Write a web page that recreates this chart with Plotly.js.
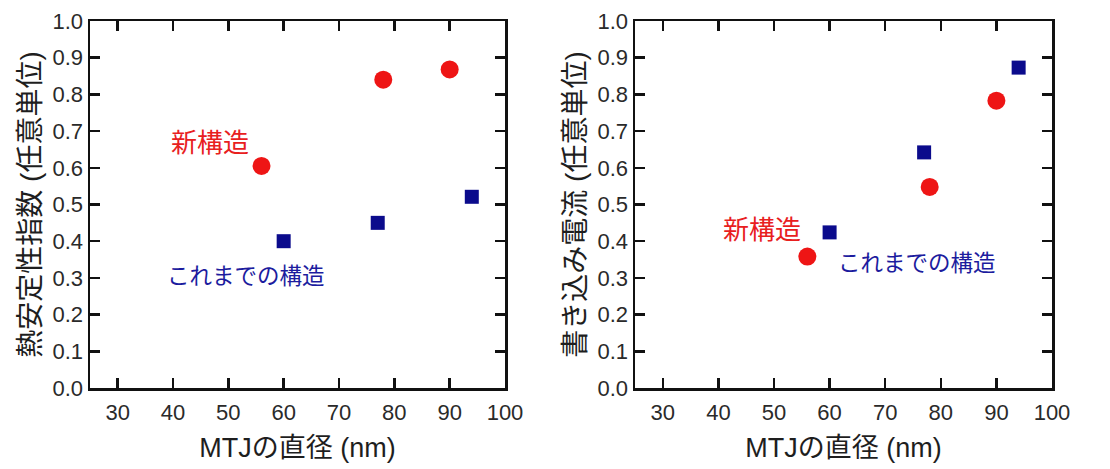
<!DOCTYPE html>
<html>
<head>
<meta charset="utf-8">
<script src="https://cdn.plot.ly/plotly-3.0.1.min.js"></script>
<style>html,body{margin:0;padding:0;background:#fff;}#chart{width:1110px;height:469px;}</style>
</head>
<body>
<div id="chart"></div>
<script>
// Left panel: thermal stability index
const leftNewX = [56, 78, 90];
const leftNewY = [0.605, 0.84, 0.868];
const leftOldX = [60, 77, 94];
const leftOldY = [0.40, 0.45, 0.521];
// Right panel: write current
const rightNewX = [56, 78, 90];
const rightNewY = [0.358, 0.548, 0.783];
const rightOldX = [60, 77, 94];
const rightOldY = [0.424, 0.642, 0.873];

const xTitle = 'MTJの直径 (nm)';
const yTitleLeft = '熱安定性指数 (任意単位)';
const yTitleRight = '書き込み電流 (任意単位)';
const labelNew = '新構造';
const labelOld = 'これまでの構造';

const FONT = '"Liberation Sans", Arial, "Noto Sans CJK JP", sans-serif';
const RED = '#ee1515';
const BLUE = '#0b0b8c';
const RED_T = '#e8201e';
const BLUE_T = '#1c1c9e';

const circ = {symbol: 'circle', size: 18, color: RED, line: {width: 0}};
const sq = {symbol: 'square', size: 14, color: BLUE, line: {width: 0}};

const traces = [
  {x: leftNewX, y: leftNewY, mode: 'markers', marker: circ, xaxis: 'x', yaxis: 'y', name: labelNew},
  {x: leftOldX, y: leftOldY, mode: 'markers', marker: sq, xaxis: 'x', yaxis: 'y', name: labelOld},
  {x: rightNewX, y: rightNewY, mode: 'markers', marker: circ, xaxis: 'x2', yaxis: 'y2', name: labelNew},
  {x: rightOldX, y: rightOldY, mode: 'markers', marker: sq, xaxis: 'x2', yaxis: 'y2', name: labelOld}
];

function xax(domain, anchor) {
  return {
    domain: domain, anchor: anchor, range: [25, 100], dtick: 10, tick0: 0,
    ticks: 'inside', ticklen: 10, tickwidth: 2.5, tickcolor: '#111',
    showline: true, linewidth: 2.5, linecolor: '#111', mirror: 'ticks',
    showgrid: false, zeroline: false,
    tickfont: {family: FONT, size: 22, color: '#2a2a2a'},
    ticklabelstandoff: 3,
    title: {text: xTitle, font: {family: FONT, size: 27, color: '#1e1e1e'}, standoff: 14},
    automargin: false
  };
}
function yax(domain, anchor, title) {
  return {
    domain: domain, anchor: anchor, range: [0, 1], dtick: 0.1, tickformat: '.1f',
    ticks: 'inside', ticklen: 10, tickwidth: 2.5, tickcolor: '#111',
    showline: true, linewidth: 2.5, linecolor: '#111', mirror: 'ticks',
    showgrid: false, zeroline: false,
    tickfont: {family: FONT, size: 22, color: '#2a2a2a'},
    title: {text: title, font: {family: FONT, size: 28, color: '#1e1e1e'}, standoff: 4},
    automargin: false
  };
}

const W = 1110, H = 469;
const yd = [1 - 388 / H, 1 - 21 / H];
const layout = {
  width: W, height: H,
  margin: {l: 0, r: 0, t: 0, b: 0},
  paper_bgcolor: '#fff', plot_bgcolor: '#fff',
  showlegend: false,
  font: {family: FONT},
  xaxis: xax([90 / W, 505 / W], 'y'),
  yaxis: yax(yd, 'x', yTitleLeft),
  xaxis2: xax([635 / W, 1052 / W], 'y2'),
  yaxis2: yax(yd, 'x2', yTitleRight),
  annotations: [
    {xref: 'x', yref: 'y', x: 46.7, y: 0.668, text: labelNew, showarrow: false, font: {family: FONT, size: 26, color: RED_T}},
    {xref: 'x', yref: 'y', x: 53.2, y: 0.303, text: labelOld, showarrow: false, font: {family: FONT, size: 22.5, color: BLUE_T}},
    {xref: 'x2', yref: 'y2', x: 47.8, y: 0.43, text: labelNew, showarrow: false, font: {family: FONT, size: 26, color: RED_T}},
    {xref: 'x2', yref: 'y2', x: 75.8, y: 0.34, text: labelOld, showarrow: false, font: {family: FONT, size: 22.5, color: BLUE_T}}
  ]
};

Plotly.newPlot('chart', traces, layout, {displayModeBar: false, staticPlot: true});
</script>
</body>
</html>
